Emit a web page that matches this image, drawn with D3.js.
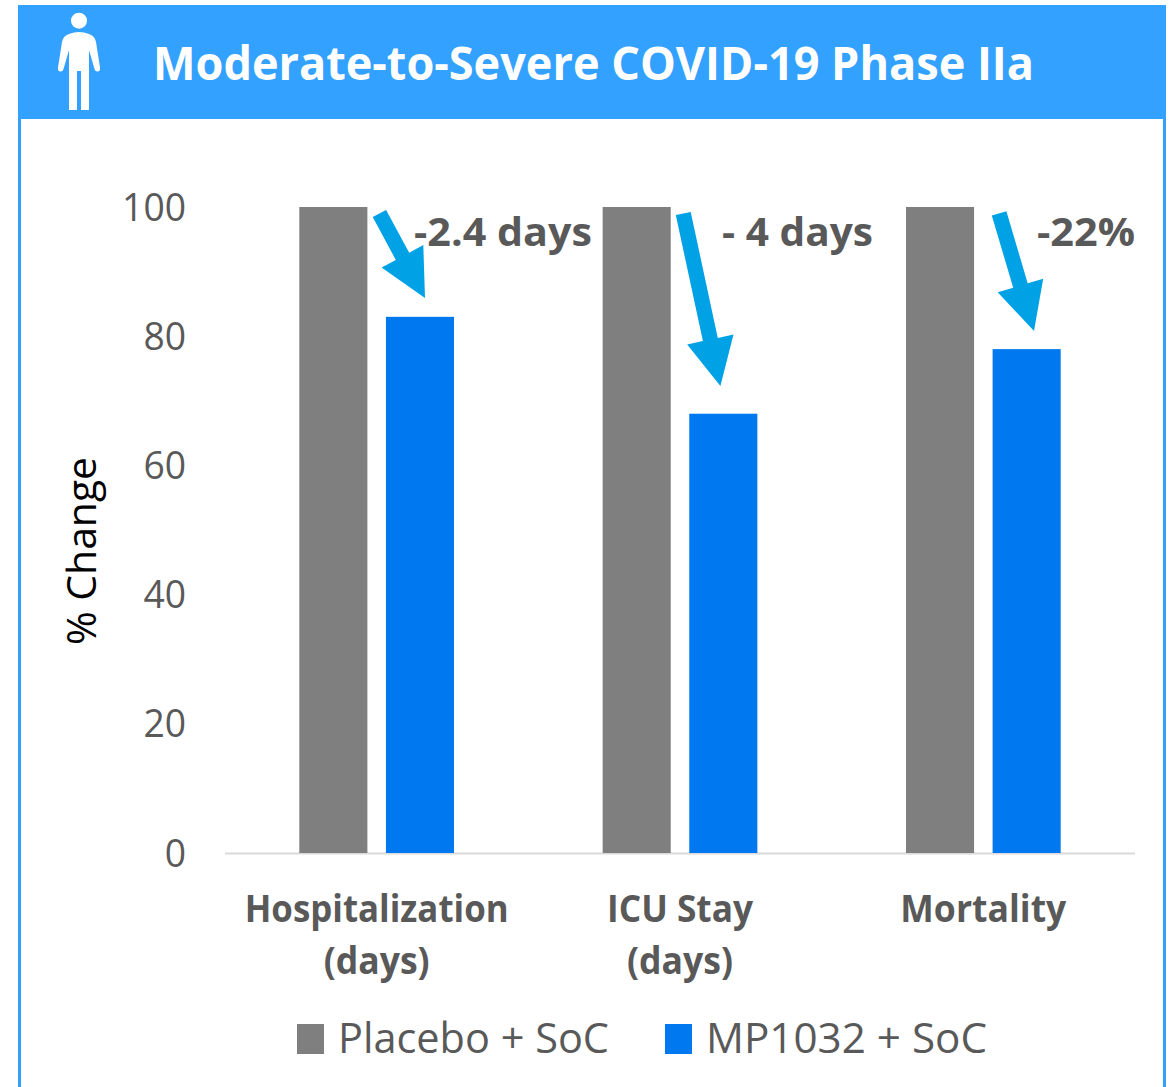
<!DOCTYPE html>
<html><head><meta charset="utf-8"><script src="https://cdn.jsdelivr.net/npm/d3@7"></script>
<style>html,body{margin:0;padding:0;background:#fff;overflow:hidden}svg{display:block}text{font-family:"Open Sans",sans-serif}</style>
</head><body><svg id="c" width="1170" height="1087"></svg>
<script>
const categories=[["Hospitalization","(days)"],["ICU Stay","(days)"],["Mortality"]];
const seriesNames=["Placebo + SoC","MP1032 + SoC"];
const placebo=[100,100,100];
const mp1032=[83,68,78];
const yTicks=[0,20,40,60,80,100];
const changeLabels=["-2.4 days","- 4 days","-22%"];
const colors=["#7f7f7f","#0078ef"];
const svg=d3.select("#c");
const y=d3.scaleLinear().domain([0,100]).range([853,207]);
const x0=d3.scaleBand().domain([0,1,2]).range([225,1135]).paddingInner(.49).paddingOuter(.245);
const x1=d3.scaleBand().domain([0,1]).range([0,x0.bandwidth()]).paddingInner(.214).paddingOuter(0);
// frame + header
svg.append("rect").attr("x",18).attr("y",5).attr("width",3).attr("height",1082).attr("fill","#33a1ff");
svg.append("rect").attr("x",1163).attr("y",5).attr("width",3).attr("height",1082).attr("fill","#33a1ff");
svg.append("rect").attr("x",18).attr("y",5).attr("width",1147).attr("height",114).attr("fill","#33a1ff");
function fit(t,w){t.attr("textLength",w).attr("lengthAdjust","spacingAndGlyphs");return t;}
fit(svg.append("text").attr("x",153).attr("y",80).attr("font-size",47).attr("font-weight",700).attr("fill","#fff").text("Moderate-to-Severe COVID-19 Phase IIa"),881);
// person
const p=svg.append("g").attr("fill","#fff");
p.append("circle").attr("cx",79).attr("cy",20.7).attr("r",8);
p.append("path").attr("d","M69 110V50L63.8 68Q63 72 60 71.5Q57.5 71 58 67.5L62 42Q63 36 69 34Q79 30 89 34Q95 36 96 42L100 67.5Q100.5 71 98 71.5Q95 72 94.2 68L89 50V110H81V71H77V110Z");
// axes
const g=svg.append("g");
g.append("line").attr("x1",225).attr("x2",1135).attr("y1",853.5).attr("y2",853.5).attr("stroke","#d9d9d9").attr("stroke-width",2);
g.selectAll(".yt").data(yTicks).join("text").attr("x",186).attr("y",d=>y(d)+13.5).attr("text-anchor","end").attr("font-size",38).attr("fill","#595959").text(d=>d).each(function(){fit(d3.select(this),String(this.textContent).length*21.3)});
svg.append("text").attr("transform","translate(96,551) rotate(-90)").attr("text-anchor","middle").attr("font-size",40).attr("fill","#000").text("% Change").call(fit,188);
// bars
[placebo,mp1032].forEach((s,i)=>{
 g.selectAll(".b"+i).data(s).join("rect").attr("x",(d,j)=>x0(j)+x1(i)).attr("width",x1.bandwidth()).attr("y",d=>y(d)).attr("height",d=>y(0)-y(d)).attr("fill",colors[i]);
});
// category labels
const catW=[[264,106],[146,106],[166]];
categories.forEach((c,j)=>c.forEach((l,k)=>{
 fit(g.append("text").attr("x",x0(j)+x0.bandwidth()/2-(catW[j][k]/2)).attr("y",922+k*52).attr("font-size",37).attr("font-weight",700).attr("fill","#595959").text(l),catW[j][k]);
}));
// arrows: tail and tip tied to bar positions
const arrowTail=[[12,99],[12.5,99],[25,99]];
const arrowTip=[[-29,2.9],[-37,4.3],[-26.7,2.8]];
function arrowPath(a,b){const dx=b[0]-a[0],dy=b[1]-a[1],L=Math.hypot(dx,dy),ux=dx/L,uy=dy/L,nx=-uy,ny=ux,hl=47.5,hw=23.7,sw=7.6;
 const P=(t,n)=>[a[0]+ux*t+nx*n,a[1]+uy*t+ny*n];
 return "M"+[P(0,sw),P(L-hl,sw),P(L-hl,hw),P(L,0),P(L-hl,-hw),P(L-hl,-sw),P(0,-sw)].map(q=>q.map(v=>v.toFixed(1)).join(",")).join("L")+"Z";}
mp1032.forEach((v,j)=>{
 const tail=[x0(j)+x1(0)+x1.bandwidth()+arrowTail[j][0],y(arrowTail[j][1])];
 const tip=[x0(j)+x1(1)+x1.bandwidth()+arrowTip[j][0],y(v+arrowTip[j][1])];
 g.append("path").attr("d",arrowPath(tail,tip)).attr("fill","#00a2e5");
});
const labX=[414,722,1037],labW=[178,151,98];
changeLabels.forEach((l,j)=>fit(g.append("text").attr("x",labX[j]).attr("y",246).attr("font-size",40).attr("font-weight",700).attr("fill","#595959").text(l),labW[j]));
// legend
const lx=[297,665],ltx=[338,706],lw=[271,281];
seriesNames.forEach((n,i)=>{
 g.append("rect").attr("x",lx[i]).attr("y",1024).attr("width",27).attr("height",30).attr("fill",colors[i]);
 fit(g.append("text").attr("x",ltx[i]).attr("y",1053).attr("font-size",42).attr("fill","#595959").text(n),lw[i]);
});
</script></body></html>
